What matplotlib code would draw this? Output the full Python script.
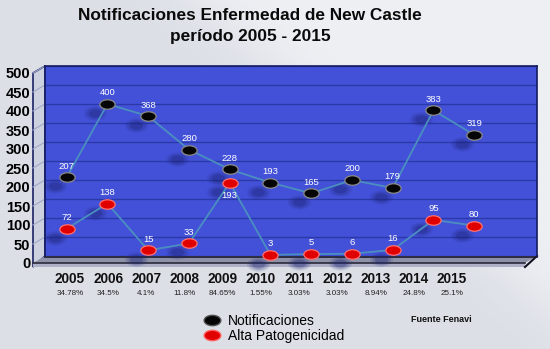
import numpy as np
import matplotlib
matplotlib.use("Agg")
import matplotlib.pyplot as plt
from matplotlib.path import Path
from matplotlib.transforms import Affine2D, ScaledTranslation, blended_transform_factory
from matplotlib.patches import Polygon
from matplotlib.lines import Line2D

# ---------------- data ----------------
years = [2005, 2006, 2007, 2008, 2009, 2010, 2011, 2012, 2013, 2014, 2015]
notificaciones = [207, 400, 368, 280, 228, 193, 165, 200, 179, 383, 319]
alta_patogenicidad = [72, 138, 15, 33, 193, 3, 5, 6, 16, 95, 80]
percent_labels = ["34.78%", "34.5%", "4.1%", "11.8%", "84.65%", "1.55%",
                  "3.03%", "3.03%", "8.94%", "24.8%", "25.1%"]
y_ticks = [0, 50, 100, 150, 200, 250, 300, 350, 400, 450, 500]
title_text = "Notificaciones Enfermedad de New Castle\nperíodo 2005 - 2015"
legend_labels = ["Notificaciones", "Alta Patogenicidad"]
source_text = "Fuente Fenavi"

plt.rcParams['font.family'] = ['Liberation Sans', 'DejaVu Sans']

W, H = 550, 349
fig = plt.figure(figsize=(W / 100, H / 100), dpi=100)

# ---------------- background ----------------
bg = fig.add_axes([0, 0, 1, 1], zorder=-10)
bg.set_xlim(0, W)
bg.set_ylim(H, 0)
bg.axis('off')
xx, yy = np.meshgrid(np.arange(W), np.arange(H))
s = 1 / (1 + np.exp(-((xx - 1.14 * yy) - 200) / 25.0))
dark = np.array([220, 223, 230]) / 255
light = np.array([238, 240, 244]) / 255
img = dark[None, None, :] * (1 - s[..., None]) + light[None, None, :] * s[..., None]
bg.imshow(img, extent=(0, W, H, 0), aspect='auto', zorder=0)

# panel geometry (pixels)
L, R, T, B = 45, 537, 66, 256
DX, DY = -12, 7  # depth offset (front plane relative to back plane)

# left wall
wall = Polygon([(L, T), (L, B), (L + DX, B + DY + 4), (L + DX, T + DY)], closed=True,
               facecolor='#cdd0de', edgecolor='#1b2366', lw=1.2, zorder=1)
bg.add_patch(wall)
# floor top
floor = Polygon([(L, B), (R, B), (R + DX, B + DY), (L + DX, B + DY)], closed=True,
                facecolor='#8f91a8', edgecolor='none', zorder=1)
bg.add_patch(floor)
# floor front face
front = Polygon([(L + DX, B + DY), (R + DX, B + DY), (R + DX, B + DY + 4), (L + DX, B + DY + 4)],
                closed=True, facecolor='#aeb0c8', edgecolor='none', zorder=1)
bg.add_patch(front)
bg.plot([L + DX, R + DX], [B + DY, B + DY], color='#2a2a3a', lw=1.2, zorder=2)
bg.plot([R, R + DX], [B, B + DY + 4], color='#101020', lw=1.5, zorder=2)
bg.plot([L, R], [B + 1, B + 1], color='#1a1a30', lw=1.2, zorder=2)

# ---------------- main panel ----------------
ax = fig.add_axes([L / W, (H - B) / H, (R - L) / W, (B - T) / H], zorder=2)
ax.set_facecolor('#4351d8')
ax.set_xlim(2004.468, 2016.54)
ax.set_ylim(0, 500)
for sp in ax.spines.values():
    sp.set_color('#141c60')
    sp.set_linewidth(1.2)
ax.spines['bottom'].set_visible(False)
ax.set_xticks([])
ax.set_yticks(y_ticks)
ax.yaxis.grid(True, color='#2b39a8', lw=1.0)
ax.set_axisbelow(True)
ax.tick_params(axis='y', length=0, pad=10.5, labelsize=10.5)
offset_lbl = ScaledTranslation(0, -DY / 100, fig.dpi_scale_trans)
for lbl in ax.get_yticklabels():
    lbl.set_fontweight('bold')
    lbl.set_transform(lbl.get_transform() + offset_lbl)

# grid lines on the left wall
for v in y_ticks[1:]:
    px = ax.transData.transform((ax.get_xlim()[0], v))
    yb = H - px[1]
    bg.plot([L, L + DX], [yb, yb + DY], color='#9ea8c8', lw=0.8, zorder=3)

# ellipse marker
ell = Path.unit_circle().transformed(Affine2D().scale(1.0, 0.62))

# shadows
shadow_tr = ax.transData + ScaledTranslation(-0.12, -0.09, fig.dpi_scale_trans)
for vals in (notificaciones, alta_patogenicidad):
    for size, a in ((280, 0.12), (180, 0.18), (90, 0.28)):
        ax.scatter(years, vals, s=size, marker=ell, color='#1a2270', alpha=a,
                   linewidths=0, transform=shadow_tr, clip_on=False, zorder=2)

line_color = '#4a8fbf'
ax.plot(years, notificaciones, color=line_color, lw=1.3, zorder=3)
ax.plot(years, alta_patogenicidad, color=line_color, lw=1.3, zorder=3)
ax.plot(years, notificaciones, ls='none', marker=ell, ms=11, mfc='#050505',
        mec='#8a8a8a', mew=0.9, zorder=4, clip_on=False)
ax.plot(years, alta_patogenicidad, ls='none', marker=ell, ms=11, mfc='#e00000',
        mec='#ff7070', mew=0.9, zorder=4, clip_on=False)

for x, v in zip(years, notificaciones):
    ax.annotate(str(v), (x, v), xytext=(0, 8), textcoords='offset points',
                ha='center', va='center', color='white', fontsize=6.8, zorder=5)
for x, v, n in zip(years, alta_patogenicidad, notificaciones):
    below = v > 150 and abs(n - v) < 60
    ax.annotate(str(v), (x, v), xytext=(0, -9.5 if below else 8), textcoords='offset points',
                ha='center', va='center', color='white', fontsize=6.8, zorder=5)

# ---------------- front category labels ----------------
ax2 = fig.add_axes([L / W, (H - B) / H, (R - L) / W, (B - T) / H], zorder=1)
ax2.set_xlim(2004.346, 2017.226)
ax2.axis('off')
tr = blended_transform_factory(ax2.transData, bg.transData)
for x, p in zip(years, percent_labels):
    bg.text(x, 279, str(x), transform=tr, ha='center', va='center',
            fontsize=9.8, fontweight='bold', color='#111111')
    bg.text(x, 293.5, p, transform=tr, ha='center', va='center',
            fontsize=5.8, color='#222222')

# ---------------- title ----------------
bg.text(250, 26.5, title_text, ha='center', va='center', fontsize=12.4,
        fontweight='bold', color='#0a0a0a', linespacing=1.5)

# ---------------- legend ----------------
handles = [Line2D([], [], ls='none', marker=ell, ms=12, mfc='#050505', mec='#505050'),
           Line2D([], [], ls='none', marker=ell, ms=12, mfc='#e00000', mec='#ff6060')]
fig.legend(handles, legend_labels, loc='upper left', bbox_to_anchor=(204 / W, 1 - 314 / H),
           frameon=False, fontsize=10, labelspacing=0.05, handlelength=1.2,
           handletextpad=0.5, borderpad=0, borderaxespad=0)
bg.text(441, 319, source_text, ha='center', va='center', fontsize=6.5,
        fontweight='bold', color='#111111')

fig.savefig('out.png', dpi=100)
